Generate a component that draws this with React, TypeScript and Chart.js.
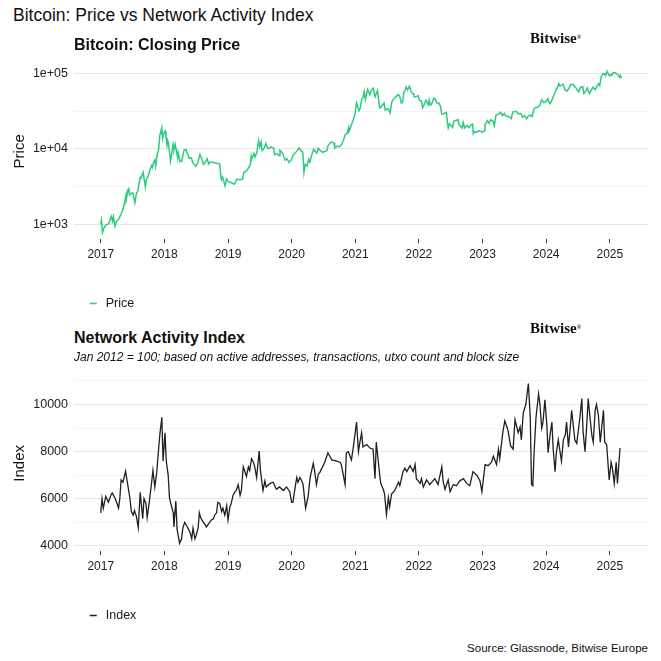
import React, { useEffect, useRef } from 'react';
import { Chart, registerables } from 'chart.js';

Chart.register(...registerables);

const FONT = "'Liberation Sans', Arial, Helvetica, sans-serif";
const SERIF = "'Liberation Serif', 'DejaVu Serif', Georgia, serif";

// ---------- shared axis data ----------
const yearTicks = [2017, 2018, 2019, 2020, 2021, 2022, 2023, 2024, 2025];
const xMin = 2016.58;
const xMax = 2025.6;

// ---------- Bitcoin closing price ----------
const priceDates = [
  '2017-01-01','2017-01-05','2017-01-11','2017-01-20','2017-02-01','2017-02-15','2017-02-25','2017-03-03','2017-03-10','2017-03-15',
  '2017-03-24','2017-04-01','2017-04-15','2017-05-01','2017-05-15','2017-05-25','2017-05-27','2017-06-06','2017-06-11','2017-06-15',
  '2017-06-25','2017-07-05','2017-07-16','2017-07-25','2017-08-01','2017-08-15','2017-08-20','2017-09-01','2017-09-14','2017-09-20',
  '2017-10-01','2017-10-12','2017-10-20','2017-10-25','2017-11-01','2017-11-07','2017-11-12','2017-11-20','2017-11-29','2017-12-07',
  '2017-12-12','2017-12-17','2017-12-22','2017-12-27','2018-01-06','2018-01-10','2018-01-16','2018-01-20','2018-01-26','2018-02-05',
  '2018-02-10','2018-02-20','2018-02-25','2018-03-04','2018-03-12','2018-03-18','2018-03-21','2018-04-01','2018-04-10','2018-04-24',
  '2018-05-05','2018-05-15','2018-05-23','2018-06-05','2018-06-12','2018-06-29','2018-07-10','2018-07-24','2018-08-01','2018-08-14',
  '2018-08-25','2018-09-04','2018-09-12','2018-09-22','2018-10-10','2018-10-20','2018-11-05','2018-11-14','2018-11-20','2018-11-25',
  '2018-12-01','2018-12-15','2018-12-24','2018-12-31','2019-01-10','2019-01-20','2019-02-07','2019-02-20','2019-03-10','2019-03-25',
  '2019-04-02','2019-04-15','2019-04-25','2019-05-10','2019-05-14','2019-05-17','2019-05-30','2019-06-05','2019-06-15','2019-06-26',
  '2019-07-02','2019-07-10','2019-07-16','2019-07-25','2019-08-06','2019-08-15','2019-08-25','2019-09-05','2019-09-20','2019-09-25',
  '2019-10-10','2019-10-22','2019-10-26','2019-11-10','2019-11-25','2019-12-05','2019-12-17','2019-12-31','2020-01-08','2020-01-19',
  '2020-02-01','2020-02-13','2020-02-25','2020-03-05','2020-03-12','2020-03-19','2020-03-29','2020-04-08','2020-04-15','2020-04-29',
  '2020-05-07','2020-05-15','2020-05-25','2020-06-02','2020-06-15','2020-06-27','2020-07-10','2020-07-22','2020-07-28','2020-08-10',
  '2020-08-17','2020-09-01','2020-09-05','2020-09-20','2020-10-01','2020-10-15','2020-10-25','2020-11-05','2020-11-15','2020-11-24',
  '2020-11-26','2020-12-05','2020-12-17','2020-12-31','2021-01-08','2021-01-15','2021-01-22','2021-01-29','2021-02-08','2021-02-15',
  '2021-02-21','2021-02-28','2021-03-13','2021-03-25','2021-04-01','2021-04-14','2021-04-25','2021-05-08','2021-05-13','2021-05-19',
  '2021-05-23','2021-06-01','2021-06-15','2021-06-22','2021-07-01','2021-07-10','2021-07-20','2021-07-30','2021-08-14','2021-08-22',
  '2021-09-06','2021-09-15','2021-09-21','2021-09-29','2021-10-06','2021-10-15','2021-10-20','2021-10-28','2021-11-08','2021-11-18',
  '2021-11-26','2021-12-03','2021-12-04','2021-12-15','2021-12-27','2022-01-05','2022-01-15','2022-01-22','2022-02-01','2022-02-10',
  '2022-02-24','2022-03-01','2022-03-07','2022-03-15','2022-03-28','2022-04-05','2022-04-15','2022-04-25','2022-05-05','2022-05-12',
  '2022-05-20','2022-06-01','2022-06-08','2022-06-13','2022-06-18','2022-06-25','2022-07-05','2022-07-13','2022-07-20','2022-07-30',
  '2022-08-14','2022-08-19','2022-08-30','2022-09-06','2022-09-12','2022-09-20','2022-10-04','2022-10-15','2022-10-29','2022-11-05',
  '2022-11-09','2022-11-15','2022-11-25','2022-12-05','2022-12-15','2022-12-31','2023-01-10','2023-01-15','2023-01-29','2023-02-09',
  '2023-02-16','2023-03-01','2023-03-10','2023-03-15','2023-03-20','2023-04-01','2023-04-14','2023-04-25','2023-05-05','2023-05-15',
  '2023-06-01','2023-06-15','2023-06-23','2023-07-13','2023-07-25','2023-08-10','2023-08-18','2023-08-29','2023-09-11','2023-09-20',
  '2023-10-01','2023-10-12','2023-10-24','2023-11-01','2023-11-15','2023-11-25','2023-12-05','2023-12-08','2023-12-18','2023-12-31',
  '2024-01-11','2024-01-15','2024-01-23','2024-02-01','2024-02-15','2024-02-28','2024-03-05','2024-03-14','2024-03-20','2024-04-01',
  '2024-04-08','2024-04-17','2024-05-01','2024-05-15','2024-05-21','2024-06-05','2024-06-18','2024-07-05','2024-07-15','2024-07-29',
  '2024-08-05','2024-08-15','2024-08-25','2024-09-06','2024-09-15','2024-09-27','2024-10-10','2024-10-20','2024-10-29','2024-11-04',
  '2024-11-12','2024-11-22','2024-12-01','2024-12-05','2024-12-10','2024-12-17','2024-12-30','2025-01-07','2025-01-13','2025-01-20',
  '2025-01-27','2025-02-03','2025-02-15','2025-02-25','2025-03-02','2025-03-09',
];
const priceValues = [
  1000,1130,780,900,990,1010,1180,1280,1100,1250,
  940,1080,1180,1420,1760,2400,2100,2860,2960,2440,
  2580,2600,1930,2600,2720,4170,4100,4890,3150,3900,
  4400,5400,6000,5700,6700,7100,5860,8200,9900,16000,
  17300,19100,13800,15800,17100,14600,11200,12900,11200,6900,
  8100,11400,9700,11500,9100,7600,8900,6800,6800,9600,
  9800,8500,7500,7600,6600,5900,6400,8400,7600,6200,
  6700,7400,6300,6700,6600,6500,6400,6300,4600,3900,
  4200,3250,4000,3740,3600,3550,3400,3950,3900,3950,
  4900,5050,5400,6300,8000,7300,8700,7800,8850,12900,
  10600,12300,9500,9900,11800,10300,10100,10600,10200,8400,
  8600,8100,9550,8800,7050,7400,6600,7200,8200,8700,
  9400,10300,9300,9100,4900,6200,5900,7300,6650,8800,
  9900,9300,8800,10200,9450,9000,9250,9500,11000,11900,
  12300,11950,10200,10900,10600,11500,13000,15600,15950,19100,
  17000,19200,23000,29000,40800,36800,32000,34300,46200,48000,
  57500,45200,61200,52000,58800,63500,49000,58900,49700,37000,
  34700,36700,40500,32500,33500,33800,29800,42200,47000,49300,
  52700,48000,40700,41000,55400,61500,66000,60600,67500,56900,
  53700,53600,49400,48900,50700,43500,43100,35100,38700,44000,
  38300,44400,38000,39300,47100,45500,40500,40400,36500,28900,
  29200,29800,30200,22400,19000,21500,20200,19300,23200,23800,
  24300,20800,19800,18800,22400,18900,20300,19100,20800,21300,
  15900,16900,16500,17100,17400,16550,17400,20900,23700,21800,
  24300,23600,20200,24700,28200,28500,30500,27500,29500,27200,
  26800,25100,30700,31400,29200,29400,26100,27700,25100,27200,
  27900,26800,33900,35400,35500,37700,44000,44200,41000,42300,
  46300,42500,39500,43100,51900,62400,63800,73100,67900,69700,
  71600,61300,58300,66200,71400,71100,65100,56700,64800,66800,
  54000,57600,64200,53900,59100,65800,60500,69000,72700,68800,
  88700,98900,97200,98800,96600,106100,92300,96900,94500,102000,
  102000,101400,97500,88700,94200,86000,
];
const priceMajorTicks = [1000, 10000, 100000];
const priceTickLabels = ['1e+03', '1e+04', '1e+05'];
const priceMinorTicks = [3162.28, 31622.8];
const priceMin = 635;
const priceMax = 135200;

// ---------- Network activity index ----------
const indexYears = [
  2017.00,2017.02,2017.04,2017.08,2017.12,2017.16,2017.18,2017.22,2017.25,2017.28,
  2017.30,2017.32,2017.35,2017.39,2017.43,2017.46,2017.48,2017.51,2017.53,2017.56,
  2017.59,2017.62,2017.66,2017.68,2017.71,2017.73,2017.76,2017.80,2017.82,2017.85,
  2017.88,2017.90,2017.93,2017.96,2017.98,2018.01,2018.03,2018.06,2018.08,2018.11,
  2018.14,2018.15,2018.18,2018.20,2018.22,2018.24,2018.27,2018.29,2018.32,2018.35,
  2018.37,2018.40,2018.43,2018.45,2018.48,2018.50,2018.53,2018.55,2018.57,2018.60,
  2018.64,2018.66,2018.70,2018.74,2018.77,2018.79,2018.82,2018.84,2018.87,2018.90,
  2018.92,2018.95,2018.98,2019.00,2019.03,2019.05,2019.08,2019.11,2019.13,2019.16,
  2019.19,2019.21,2019.24,2019.26,2019.29,2019.32,2019.34,2019.37,2019.40,2019.42,
  2019.45,2019.49,2019.51,2019.55,2019.58,2019.60,2019.66,2019.71,2019.76,2019.81,
  2019.87,2019.92,2019.97,2020.00,2020.02,2020.05,2020.08,2020.10,2020.13,2020.16,
  2020.18,2020.22,2020.26,2020.29,2020.34,2020.36,2020.39,2020.42,2020.44,2020.52,
  2020.57,2020.63,2020.71,2020.76,2020.78,2020.84,2020.86,2020.89,2020.94,2020.97,
  2021.02,2021.05,2021.07,2021.10,2021.12,2021.18,2021.23,2021.28,2021.31,2021.33,
  2021.38,2021.40,2021.44,2021.46,2021.49,2021.52,2021.54,2021.57,2021.62,2021.68,
  2021.70,2021.75,2021.78,2021.81,2021.86,2021.91,2021.94,2021.96,2022.02,2022.04,
  2022.07,2022.12,2022.17,2022.25,2022.30,2022.36,2022.38,2022.41,2022.46,2022.49,
  2022.54,2022.59,2022.64,2022.70,2022.75,2022.80,2022.85,2022.91,2022.96,2022.99,
  2023.04,2023.09,2023.14,2023.17,2023.22,2023.25,2023.27,2023.32,2023.35,2023.40,
  2023.44,2023.48,2023.51,2023.56,2023.59,2023.61,2023.64,2023.68,2023.72,2023.75,
  2023.77,2023.79,2023.81,2023.84,2023.88,2023.90,2023.93,2023.95,2023.98,2024.01,
  2024.03,2024.06,2024.09,2024.11,2024.14,2024.16,2024.19,2024.22,2024.24,2024.27,
  2024.30,2024.32,2024.35,2024.37,2024.40,2024.43,2024.45,2024.48,2024.51,2024.53,
  2024.56,2024.58,2024.61,2024.64,2024.66,2024.69,2024.72,2024.74,2024.77,2024.79,
  2024.82,2024.85,2024.87,2024.90,2024.92,2024.95,2024.99,2025.02,2025.04,2025.07,
  2025.10,2025.12,2025.16,
];
const indexValues = [
  5400,6000,5600,6100,5850,6150,6250,6050,5850,5600,
  6000,6800,6700,7170,6500,6000,5470,5300,5500,5250,
  4775,6275,5150,6000,5800,5200,5800,6700,7200,6500,
  7100,7800,8750,9460,7600,8800,7600,7000,6050,5700,
  5400,4800,5900,4700,4400,4110,4300,4750,5000,4850,
  4750,4600,4300,4750,4300,4450,4750,5400,5200,5050,
  4900,4800,4950,5100,5150,5300,5400,5850,5800,5450,
  5600,5300,5700,5100,5650,5800,6150,6300,6350,6600,
  6150,6350,7350,7200,6950,7350,7200,7700,7550,7350,
  6900,8025,7200,6350,6750,6500,6650,6700,6400,6500,
  6350,6500,6300,5850,5850,6400,6900,6700,6900,6750,
  6600,5600,6100,6900,7500,7200,6600,7050,7100,7550,
  7950,7650,7600,7550,7450,6600,7950,8000,7650,8200,
  9250,8000,8350,8800,8200,8300,8150,8100,6850,8400,
  7100,6650,6400,6200,5330,6050,5650,6200,6350,6700,
  6550,7150,7300,7150,7400,7150,7450,6850,6650,6850,
  6500,6800,6600,6850,6600,7350,6750,6400,6800,6300,
  6600,6550,6750,6850,6650,6550,7150,7000,6750,6300,
  7450,7400,7550,7800,7450,8100,7700,8850,9300,8900,
  8250,8100,9350,8800,9050,8500,9650,10000,10890,9450,
  6600,6550,7950,9450,10450,10050,9000,9250,10200,9150,
  7950,8700,9250,8100,7150,7950,8500,7950,7600,8500,
  8700,9250,8200,8750,9750,9000,8500,8350,9000,9450,
  10250,8850,8000,9250,10250,9400,8650,8400,9750,10000,
  9550,8400,8950,9750,8400,8300,6800,7550,7300,6650,
  7550,6650,8150,
];
const indexMajorTicks = [4000, 6000, 8000, 10000];
const indexMinorTicks = [5000, 7000, 9000, 11000];
const indexMin = 3770;
const indexMax = 11230;

// ---------- helpers ----------
function dateToYear(d: string): number {
  const [y, m, dd] = d.split('-').map(Number);
  const start = Date.UTC(y, 0, 1);
  const end = Date.UTC(y + 1, 0, 1);
  return y + (Date.UTC(y, m - 1, dd) - start) / (end - start);
}

const legendShift = {
  id: 'legendShift',
  afterLayout(chart: any) {
    const lg = chart.legend;
    if (lg) lg.left = 77;
  },
};

function makeConfig(opts: {
  label: string;
  color: string;
  width: number;
  points: { x: number; y: number }[];
  yType: 'linear' | 'logarithmic';
  yMin: number;
  yMax: number;
  major: number[];
  minor: number[];
  labelFor: (v: number) => string;
  yTitle: string;
  padTop: number;
  padBottom: number;
}): any {
  const isMajor = (v: number) => opts.major.some((m) => Math.abs(m - v) < 1e-6 * m);
  return {
    type: 'line',
    data: {
      datasets: [
        {
          label: opts.label,
          data: opts.points,
          borderColor: opts.color,
          backgroundColor: opts.color,
          borderWidth: opts.width,
          pointRadius: 0,
          tension: 0,
          fill: false,
        },
      ],
    },
    plugins: [legendShift],
    options: {
      responsive: false,
      maintainAspectRatio: false,
      animation: false,
      events: [],
      layout: { padding: { top: opts.padTop, bottom: opts.padBottom, left: 0, right: 13 } },
      plugins: {
        tooltip: { enabled: false },
        legend: {
          display: true,
          position: 'bottom',
          align: 'start',
          labels: {
            usePointStyle: true,
            pointStyle: 'line',
            boxWidth: 13,
            boxHeight: 5,
            padding: 10,
            color: '#1a1a1a',
            font: { family: FONT, size: 12.5 },
          },
        },
      },
      scales: {
        x: {
          type: 'linear',
          min: xMin,
          max: xMax,
          bounds: 'data',
          afterBuildTicks: (s: any) => {
            s.ticks = yearTicks.map((v) => ({ value: v }));
          },
          afterFit: (s: any) => {
            s.height = 48;
          },
          grid: {
            display: true,
            drawOnChartArea: false,
            drawTicks: true,
            tickLength: 4,
            tickColor: '#444',
            tickWidth: 1,
          },
          border: { display: false },
          ticks: {
            autoSkip: false,
            maxRotation: 0,
            padding: 4,
            color: '#222',
            font: { family: FONT, size: 12 },
            callback: (v: number) => String(v),
          },
        },
        y: {
          type: opts.yType,
          min: opts.yMin,
          max: opts.yMax,
          bounds: 'data',
          afterBuildTicks: (s: any) => {
            s.ticks = [...opts.major, ...opts.minor].sort((a, b) => a - b).map((v) => ({ value: v }));
          },
          afterFit: (s: any) => {
            s.width = 74;
          },
          grid: {
            drawTicks: false,
            color: (c: any) => (c.tick && isMajor(c.tick.value) ? '#e6e6e6' : '#efefef'),
            lineWidth: (c: any) => (c.tick && isMajor(c.tick.value) ? 1 : 0.7),
          },
          border: { display: false },
          ticks: {
            autoSkip: false,
            padding: 6,
            color: '#222',
            font: { family: FONT, size: 12.5 },
            callback: (v: number) => (isMajor(v) ? opts.labelFor(v) : ''),
          },
          title: {
            display: true,
            text: opts.yTitle,
            color: '#111',
            font: { family: FONT, size: 15 },
            padding: { top: 11, bottom: 0 },
          },
        },
      },
    },
  };
}

function ChartCanvas({ config, top, height }: { config: any; top: number; height: number }) {
  const ref = useRef<HTMLCanvasElement | null>(null);
  useEffect(() => {
    if (!ref.current) return;
    const chart = new Chart(ref.current, config);
    return () => chart.destroy();
  }, [config]);
  return (
    <div style={{ position: 'absolute', left: 0, top, width: 661, height }}>
      <canvas ref={ref} width={661} height={height} style={{ display: 'block' }} />
    </div>
  );
}

const priceConfig = makeConfig({
  label: 'Price',
  color: '#2ecb7f',
  width: 1.5,
  points: priceDates.map((d, i) => ({ x: dateToYear(d), y: priceValues[i] })),
  yType: 'logarithmic',
  yMin: priceMin,
  yMax: priceMax,
  major: priceMajorTicks,
  minor: priceMinorTicks,
  labelFor: (v) => priceTickLabels[priceMajorTicks.findIndex((m) => Math.abs(m - v) < 1e-6 * m)],
  yTitle: 'Price',
  padTop: 10,
  padBottom: 0.3,
});

const indexConfig = makeConfig({
  label: 'Index',
  color: '#1f1f1f',
  width: 1.3,
  points: indexYears.map((x, i) => ({ x, y: indexValues[i] })),
  yType: 'linear',
  yMin: indexMin,
  yMax: indexMax,
  major: indexMajorTicks,
  minor: indexMinorTicks,
  labelFor: (v) => String(v),
  yTitle: 'Index',
  padTop: 10.2,
  padBottom: 0.25,
});

function Text({ left, right, cy, size, weight, italic, family, children }: any) {
  const lh = Math.round(size * 1.4);
  return (
    <div
      style={{
        position: 'absolute',
        left,
        right,
        top: cy - lh / 2,
        lineHeight: `${lh}px`,
        fontSize: size,
        fontWeight: weight || 400,
        fontStyle: italic ? 'italic' : 'normal',
        fontFamily: family || FONT,
        color: '#111',
        whiteSpace: 'nowrap',
      }}
    >
      {children}
    </div>
  );
}

function Logo({ cy }: { cy: number }) {
  return (
    <Text left={530} cy={cy} size={15} weight={700} family={SERIF}>
      Bitwise
      <span style={{ fontSize: 6, verticalAlign: 'top', position: 'relative', top: -1 }}>®</span>
    </Text>
  );
}

export default function App() {
  return (
    <div
      style={{
        position: 'fixed',
        left: 0,
        top: 0,
        width: 661,
        height: 661,
        background: '#ffffff',
        overflow: 'hidden',
        fontFamily: FONT,
      }}
    >
      <ChartCanvas config={priceConfig} top={50} height={270} />
      <ChartCanvas config={indexConfig} top={362} height={270} />
      <Text left={13} cy={15} size={17.5}>Bitcoin: Price vs Network Activity Index</Text>
      <Text left={74} cy={45} size={16} weight={700}>Bitcoin: Closing Price</Text>
      <Logo cy={38} />
      <Text left={74} cy={338} size={16} weight={700}>Network Activity Index</Text>
      <Text left={74} cy={357} size={12} italic>
        Jan 2012 = 100; based on active addresses, transactions, utxo count and block size
      </Text>
      <Logo cy={328} />
      <Text right={13} cy={648} size={11.5}>Source: Glassnode, Bitwise Europe</Text>
    </div>
  );
}
